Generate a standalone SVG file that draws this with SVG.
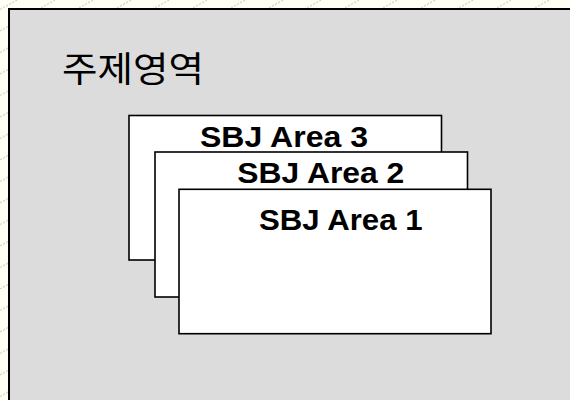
<svg xmlns="http://www.w3.org/2000/svg" width="570" height="400" viewBox="0 0 570 400">
<style>
.box{fill:#ffffff;stroke:#000;stroke-width:1.6}
.lbl{font-family:"Liberation Sans",Arial,sans-serif;font-weight:bold;font-size:29px;fill:#000}
.title{font-family:"Noto Sans CJK KR","Noto Sans",sans-serif;font-size:35px;fill:#000}
</style>
<defs>
<pattern id="hatch" patternUnits="userSpaceOnUse" x="0" y="9.6" width="38" height="21.5">
<line x1="0" y1="21.5" x2="38" y2="0" stroke="#b0b0a8" stroke-width="0.9" stroke-dasharray="2 1.5"/>
</pattern>
</defs>
<rect x="0" y="0" width="570" height="400" fill="#fffff4"/>
<rect x="0" y="0" width="570" height="400" fill="url(#hatch)"/>
<g id="frame">
<rect x="9" y="9" width="580" height="420" fill="#dcdcdc" stroke="#000" stroke-width="2"/>
<text class="title" x="62" y="81.5" textLength="142" lengthAdjust="spacingAndGlyphs">주제영역</text>
</g>
<g id="area3">
<rect class="box" x="129" y="115.5" width="312.5" height="144.5"/>
<text class="lbl" x="200" y="147.3" textLength="168" lengthAdjust="spacingAndGlyphs">SBJ Area 3</text>
</g>
<g id="area2">
<rect class="box" x="155" y="152" width="312.5" height="145"/>
<text class="lbl" x="237.3" y="183.3" textLength="167" lengthAdjust="spacingAndGlyphs">SBJ Area 2</text>
</g>
<g id="area1">
<rect class="box" x="179" y="189.3" width="312" height="144.4"/>
<text class="lbl" x="259" y="230" textLength="163.5" lengthAdjust="spacingAndGlyphs">SBJ Area 1</text>
</g>
<g id="connectors"/>
</svg>
